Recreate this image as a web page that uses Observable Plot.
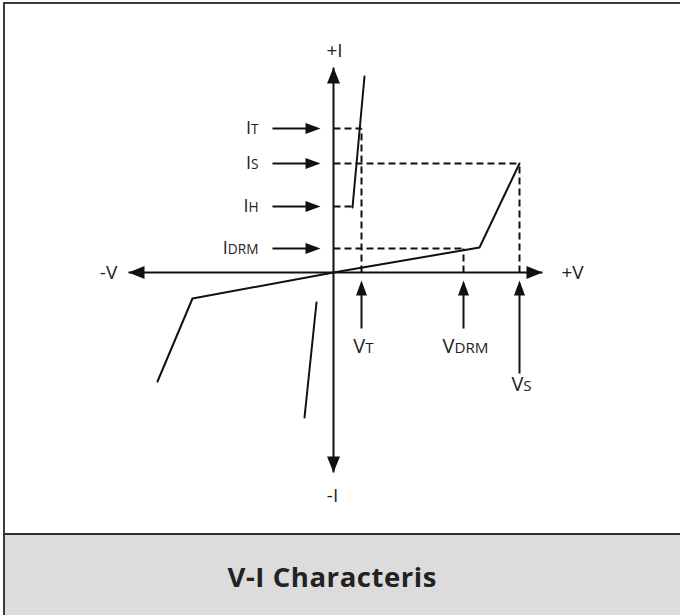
<!DOCTYPE html>
<html>
<head>
<meta charset="utf-8">
<script src="https://cdn.jsdelivr.net/npm/d3@7"></script>
<script src="https://cdn.jsdelivr.net/npm/@observablehq/plot@0.6"></script>
<style>
  html, body { margin: 0; padding: 0; background: #fff; }
  #frame { position: relative; width: 680px; height: 615px; overflow: hidden; font-family: "Open Sans", sans-serif; }
  #leftBorder { position: absolute; left: 3px; top: 2px; width: 2px; height: 613px; background: #3a3a3a; }
  #topBorder { position: absolute; left: 3px; top: 2px; width: 677px; height: 2px; background: #3a3a3a; }
  #sep { position: absolute; left: 3px; top: 533px; width: 677px; height: 2px; background: #2e2e2e; }
  #titleBox { position: absolute; left: 5px; top: 535px; width: 675px; height: 80px; background: #dcdcdc; }
  #title { position: absolute; left: 0; top: 0; width: 680px; }
  #chart { position: absolute; left: 0; top: 0; }
</style>
</head>
<body>
<div id="frame">
  <div id="titleBox"></div>
  <div id="leftBorder"></div>
  <div id="topBorder"></div>
  <div id="sep"></div>
  <div id="chart"></div>
  <svg id="title" width="680" height="615" style="pointer-events:none">
    <text x="332" y="587" text-anchor="middle" font-family="Open Sans, sans-serif" font-weight="bold" font-size="27.5" fill="#222" textLength="209" lengthAdjust="spacing">V-I Characteris</text>
  </svg>
</div>
<script>
// ---- Data (diagram units: V to the right, I upward, origin at 0) ----
const forwardV = [0, 146, 186];
const forwardI = [0, 25, 109];
const onStateV = [19, 31];
const onStateI = [65, 196];
const reverseV = [0, -141, -176];
const reverseI = [0, -26, -109];
const reverseOnV = [-17, -29];
const reverseOnI = [-30, -145];

const currentNames = ["I_T", "I_S", "I_H", "I_DRM"];
const currentLevels = [144, 109, 66, 24];
const currentReachV = [28, 186, 19, 130];

const voltageNames = ["V_T", "V_DRM", "V_S"];
const voltageLevels = [28, 130, 186];
const voltageReachI = [144, 24, 109];

const axisV = [-205, 209];
const axisI = [-200, 205];
const axisNames = ["+I", "-I", "-V", "+V"];

// ---- Layout helpers ----
const ink = "#111";
const textInk = "#222";
const bigHead = {draw(ctx) { ctx.moveTo(0, 0); ctx.lineTo(6.5, 16); ctx.lineTo(-6.5, 16); ctx.closePath(); }};
const smallHead = {draw(ctx) { ctx.moveTo(0, 0); ctx.lineTo(5.5, 15); ctx.lineTo(-5.5, 15); ctx.closePath(); }};
const idx = n => Array.from({length: n}, (_, i) => i);

const labelArrowTail = -61, labelArrowTip = -13;   // current-label arrows (V units)
const vArrowTip = -8;                               // voltage-label arrows (I units)
const vArrowTails = [-56, -56, -101];
const vLabelI = [-74.5, -74.5, -112.5];
const dash = "7,4";

const chart = Plot.plot({
  width: 680,
  height: 533,
  margin: 0,
  x: {domain: [-333, 347], range: [0, 680], axis: null},
  y: {domain: [-261, 272], range: [533, 0], axis: null},
  style: {background: "transparent", overflow: "visible"},
  marks: [
    // dashed guides
    Plot.link(idx(4), {x1: 0, x2: i => currentReachV[i], y1: i => currentLevels[i], y2: i => currentLevels[i],
      stroke: ink, strokeWidth: 2, strokeDasharray: dash}),
    Plot.link(idx(3), {x1: i => voltageLevels[i], x2: i => voltageLevels[i], y1: 0, y2: i => voltageReachI[i],
      stroke: ink, strokeWidth: 2, strokeDasharray: dash}),
    // axes
    Plot.link([0], {x1: axisV[0], x2: axisV[1], y1: 0, y2: 0, stroke: ink, strokeWidth: 2}),
    Plot.link([0], {x1: 0, x2: 0, y1: axisI[0], y2: axisI[1], stroke: ink, strokeWidth: 2}),
    Plot.dot(idx(4), {
      x: i => [axisV[1], axisV[0], 0, 0][i],
      y: i => [0, 0, axisI[1], axisI[0]][i],
      rotate: i => [90, -90, 0, 180][i],
      symbol: bigHead, fill: ink, stroke: "none"
    }),
    // characteristic curves
    Plot.line(idx(3), {x: i => forwardV[i], y: i => forwardI[i], stroke: ink, strokeWidth: 2}),
    Plot.line(idx(2), {x: i => onStateV[i], y: i => onStateI[i], stroke: ink, strokeWidth: 2}),
    Plot.line(idx(3), {x: i => reverseV[i], y: i => reverseI[i], stroke: ink, strokeWidth: 2}),
    Plot.line(idx(2), {x: i => reverseOnV[i], y: i => reverseOnI[i], stroke: ink, strokeWidth: 2}),
    // current label arrows
    Plot.link(idx(4), {x1: labelArrowTail, x2: labelArrowTip - 8, y1: i => currentLevels[i], y2: i => currentLevels[i],
      stroke: ink, strokeWidth: 2}),
    Plot.dot(idx(4), {x: labelArrowTip, y: i => currentLevels[i], rotate: 90, symbol: smallHead, fill: ink, stroke: "none"}),
    // voltage label arrows
    Plot.link(idx(3), {x1: i => voltageLevels[i], x2: i => voltageLevels[i], y1: i => vArrowTails[i], y2: vArrowTip - 8,
      stroke: ink, strokeWidth: 2}),
    Plot.dot(idx(3), {x: i => voltageLevels[i], y: vArrowTip, rotate: 0, symbol: smallHead, fill: ink, stroke: "none"}),
    // labels
    Plot.text(idx(4), {x: -75, y: i => currentLevels[i], text: i => currentNames[i], textAnchor: "end",
      fontSize: 18, fill: textInk, fontFamily: "Open Sans", fontWeight: 500}),
    Plot.text(idx(3), {x: i => voltageLevels[i], y: i => vLabelI[i], text: i => voltageNames[i], dx: 2,
      fontSize: 20, fill: textInk, fontFamily: "Open Sans", fontWeight: 500}),
    Plot.text(idx(4), {
      x: i => [1, -1, -225, 239][i],
      y: i => [222, -223, 0, 0][i],
      text: i => axisNames[i],
      fontSize: 19, fill: textInk, fontFamily: "Open Sans", fontWeight: 500
    })
  ]
});

// subscript-style small caps for label suffixes
d3.select(chart).selectAll("text").each(function() {
  const t = this.textContent;
  if (!t.includes("_")) return;
  const [main, sub] = t.split("_");
  const fs = parseFloat(d3.select(this.parentNode).attr("font-size") || this.getAttribute("font-size") || 18);
  const sel = d3.select(this);
  sel.text(null);
  sel.append("tspan").text(main);
  sel.append("tspan").attr("font-size", (fs * 0.76).toFixed(1)).text(sub);
});

document.getElementById("chart").appendChild(chart);
</script>
</body>
</html>
